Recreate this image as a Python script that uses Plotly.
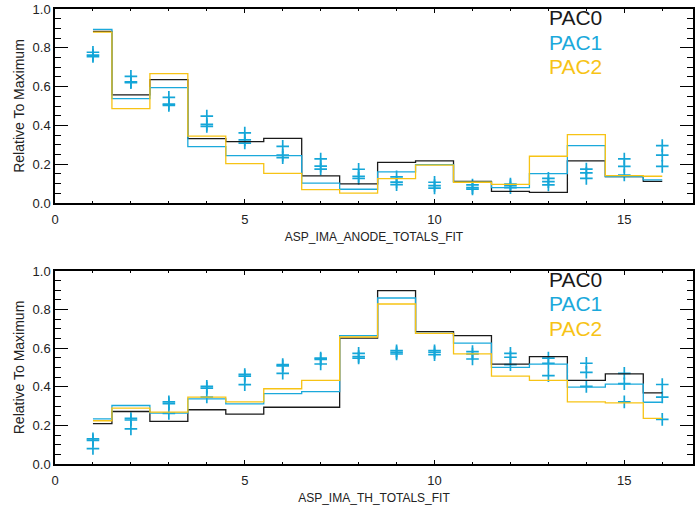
import plotly.graph_objects as go
from plotly.subplots import make_subplots

# Channel index (1..16)
channels = list(range(1, 17))

# ASP_IMA_ANODE_TOTALS_FIT: histogram levels per PAC
anode_pac0 = [0.885, 0.557, 0.636, 0.332, 0.316, 0.333, 0.140, 0.099,
              0.209, 0.217, 0.112, 0.060, 0.055, 0.217, 0.136, 0.112]
anode_pac1 = [0.895, 0.538, 0.595, 0.291, 0.244, 0.244, 0.103, 0.071,
              0.160, 0.198, 0.107, 0.079, 0.151, 0.296, 0.136, 0.119]
anode_pac2 = [0.881, 0.487, 0.667, 0.345, 0.203, 0.153, 0.069, 0.051,
              0.126, 0.195, 0.107, 0.096, 0.241, 0.352, 0.141, 0.138]

# ASP_IMA_ANODE_TOTALS_FIT: individual fit points
anode_pts_a = [0.777, 0.653, 0.545, 0.448, 0.361, 0.292, 0.227, 0.174,
               0.135, 0.107, 0.093, 0.098, 0.127, 0.175, 0.227, 0.296]
anode_pts_b = [0.762, 0.625, 0.510, 0.405, 0.325, 0.247, 0.190, 0.138,
               0.108, 0.090, 0.079, 0.090, 0.110, 0.155, 0.189, 0.247]
anode_pts_c = [0.755, 0.620, 0.503, 0.395, 0.309, 0.234, 0.175, 0.127,
               0.095, 0.077, 0.072, 0.079, 0.093, 0.127, 0.144, 0.189]

# ASP_IMA_TH_TOTALS_FIT: histogram levels per PAC
th_pac0 = [0.209, 0.272, 0.221, 0.281, 0.258, 0.294, 0.294, 0.652,
           0.898, 0.686, 0.665, 0.517, 0.556, 0.433, 0.467, 0.368]
th_pac1 = [0.234, 0.303, 0.264, 0.337, 0.311, 0.365, 0.375, 0.665,
           0.860, 0.677, 0.626, 0.501, 0.517, 0.398, 0.414, 0.320]
th_pac2 = [0.224, 0.289, 0.269, 0.346, 0.322, 0.390, 0.433, 0.658,
           0.829, 0.677, 0.571, 0.455, 0.433, 0.322, 0.317, 0.236]

# ASP_IMA_TH_TOTALS_FIT: individual fit points
th_pts_a = [0.130, 0.236, 0.322, 0.402, 0.464, 0.515, 0.549, 0.573,
            0.587, 0.587, 0.582, 0.573, 0.549, 0.522, 0.470, 0.412]
th_pts_b = [0.122, 0.228, 0.313, 0.393, 0.455, 0.508, 0.542, 0.557,
            0.578, 0.578, 0.570, 0.553, 0.522, 0.475, 0.416, 0.347]
th_pts_c = [0.080, 0.182, 0.262, 0.347, 0.411, 0.470, 0.518, 0.549,
            0.570, 0.566, 0.544, 0.515, 0.458, 0.402, 0.322, 0.231]

pac_names = ["PAC0", "PAC1", "PAC2"]
pac_colors = ["#1a1a1a", "#1ba9db", "#f7c315"]
point_color = "#14a6d8"

x_titles = ["ASP_IMA_ANODE_TOTALS_FIT", "ASP_IMA_TH_TOTALS_FIT"]
y_title = "Relative To Maximum"
x_ticks = [0, 5, 10, 15]
y_ticks = [0.0, 0.2, 0.4, 0.6, 0.8, 1.0]

panels = [
    ([anode_pac0, anode_pac1, anode_pac2], [anode_pts_a, anode_pts_b, anode_pts_c]),
    ([th_pac0, th_pac1, th_pac2], [th_pts_a, th_pts_b, th_pts_c]),
]

fig = make_subplots(rows=2, cols=1, vertical_spacing=0.15)

FONT = "Liberation Sans, Arial, sans-serif"

for row, (levels, points) in enumerate(panels, start=1):
    for pts in points:
        fig.add_trace(go.Scatter(
            x=channels, y=pts, mode="markers", showlegend=False,
            marker=dict(symbol="cross-thin", size=9, color=point_color,
                        line=dict(width=1.7, color=point_color)),
        ), row=row, col=1)
    for name, color, vals in zip(pac_names, pac_colors, levels):
        fig.add_trace(go.Scatter(
            x=channels, y=vals, mode="lines", name=name, showlegend=False,
            line=dict(shape="hvh", color=color, width=1.3),
        ), row=row, col=1)

    fig.update_xaxes(
        range=[0, 16.81], tickvals=x_ticks, ticks="inside", ticklen=4,
        tickwidth=1, tickcolor="#000", showline=True, linecolor="#000",
        linewidth=1.5, mirror="ticks", showgrid=False, zeroline=False,
        minor=dict(ticks="inside", ticklen=2, dtick=1, tickcolor="#000"),
        ticklabelstandoff=4,
        tickfont=dict(family=FONT, size=13, color="#222"),
        title=dict(text=x_titles[row - 1], standoff=6,
                   font=dict(family=FONT, size=12, color="#222")),
        row=row, col=1)
    fig.update_yaxes(
        range=[0, 1.0], tickvals=y_ticks, tickformat=".1f", ticks="inside",
        ticklen=13, tickwidth=1, tickcolor="#000", showline=True,
        linecolor="#000", linewidth=1.5, mirror="ticks", showgrid=False,
        zeroline=False,
        minor=dict(ticks="inside", ticklen=6.5, dtick=0.05, tickcolor="#000"),
        tickfont=dict(family=FONT, size=13, color="#222"),
        title=dict(text=y_title, standoff=5,
                   font=dict(family=FONT, size=14, color="#222")),
        row=row, col=1)

    # PAC labels stacked in the upper right of each panel
    xref = "x" if row == 1 else "x2"
    yref = "y" if row == 1 else "y2"
    for name, color, ypos in zip(pac_names, pac_colors, [0.955, 0.829, 0.703]):
        fig.add_annotation(x=13.0, y=ypos, xref=xref, yref=yref, text=name,
                           showarrow=False, xanchor="left", yanchor="middle",
                           borderpad=0,
                           font=dict(family=FONT, size=21, color=color))

fig.update_layout(
    width=697, height=509,
    margin=dict(l=55, r=2, t=5, b=45),
    paper_bgcolor="white", plot_bgcolor="white",
    showlegend=False,
)
fig.update_layout(
    yaxis=dict(domain=[0.5736, 1.0]),
    yaxis2=dict(domain=[0.0, 0.4242]),
)

fig.write_html("out.html")
